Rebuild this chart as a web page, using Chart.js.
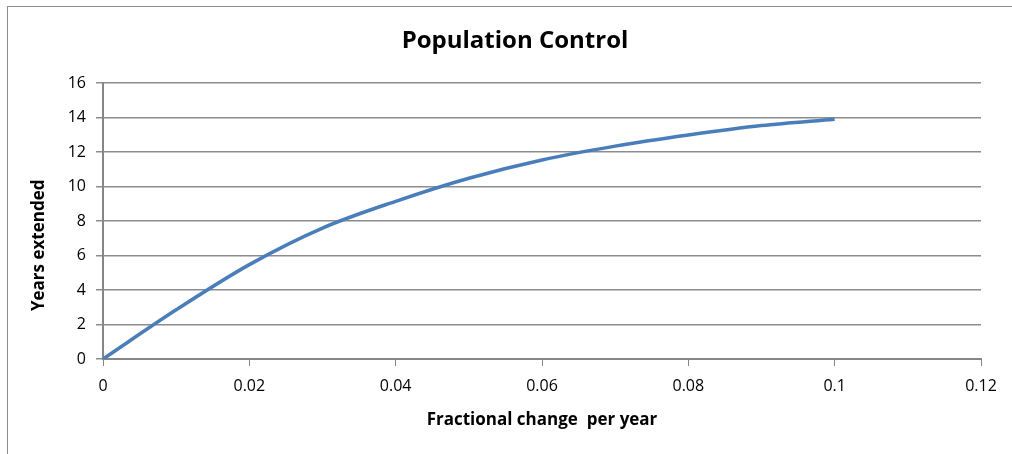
<html>
<head>
    <script src="https://cdn.jsdelivr.net/npm/chart.js@4.4.1/dist/chart.umd.min.js"></script>
    <style>
        body { margin: 0; background: #fff; }
    </style>
</head>
<body>
<div style="width:1012px;height:454px">
<canvas id="myChart" width="1012" height="454"></canvas>
</div>
</body>
<script>
    // values
    var fractionalChange = [0, 0.01, 0.02, 0.03, 0.04, 0.05, 0.06, 0.07, 0.08, 0.09, 0.1];
    var yearsExtended = [0, 2.85, 5.47, 7.59, 9.14, 10.48, 11.54, 12.34, 12.98, 13.53, 13.9];
    var xTicks = [0, 0.02, 0.04, 0.06, 0.08, 0.1, 0.12];
    var yTicks = [0, 2, 4, 6, 8, 10, 12, 14, 16];

    var points = fractionalChange.map(function (x, i) {
        return { x: x, y: yearsExtended[i] };
    });

    var fontFamily = "'Open Sans', sans-serif";

    // outer frame like the spreadsheet chart border
    var frame = {
        id: 'frame',
        beforeDraw: function (chart) {
            var ctx = chart.ctx;
            ctx.save();
            ctx.fillStyle = '#fff';
            ctx.fillRect(0, 0, chart.width, chart.height);
            ctx.strokeStyle = '#8c8c8c';
            ctx.lineWidth = 1;
            ctx.strokeRect(7.5, 6.5, chart.width + 20, chart.height + 20);
            ctx.restore();
        }
    };

    var ctx = document.getElementById("myChart").getContext("2d");
    var chart = new Chart(ctx, {
        type: 'line',
        data: {
            datasets: [{
                label: 'Years extended',
                data: points,
                borderColor: '#4a7ebb',
                borderWidth: 3.5,
                pointRadius: 0,
                fill: false,
                cubicInterpolationMode: 'monotone'
            }]
        },
        options: {
            responsive: false,
            animation: false,
            layout: { padding: { left: 18, right: 0, top: 0, bottom: 0 } },
            plugins: {
                legend: { display: false },
                tooltip: { enabled: false },
                title: {
                    display: true,
                    text: 'Population Control',
                    color: '#000',
                    font: { family: fontFamily, size: 24, weight: 'bold' },
                    padding: { top: 26.5, bottom: 27.7 }
                }
            },
            scales: {
                x: {
                    type: 'linear',
                    min: 0,
                    max: 0.12,
                    afterBuildTicks: function (scale) {
                        scale.ticks = xTicks.map(function (v) { return { value: v }; });
                    },
                    afterFit: function (scale) {
                        scale.height = 95;
                        scale.paddingRight = 31;
                    },
                    ticks: {
                        color: '#000',
                        font: { family: fontFamily, size: 16 },
                        padding: 11,
                        maxRotation: 0,
                        callback: function (v) { return String(v); }
                    },
                    grid: {
                        drawOnChartArea: false,
                        drawTicks: true,
                        tickLength: 7,
                        color: '#868686'
                    },
                    border: { color: '#868686', width: 2 },
                    title: {
                        display: true,
                        text: 'Fractional change  per year',
                        color: '#000',
                        font: { family: fontFamily, size: 17, weight: 'bold' },
                        padding: { top: 0, bottom: 23.3 }
                    }
                },
                y: {
                    min: 0,
                    max: 16,
                    afterBuildTicks: function (scale) {
                        scale.ticks = yTicks.map(function (v) { return { value: v }; });
                    },
                    afterFit: function (scale) { scale.width = 85; },
                    ticks: {
                        color: '#000',
                        font: { family: fontFamily, size: 16 },
                        padding: 10
                    },
                    grid: {
                        color: '#8c8c8c',
                        lineWidth: 1.5,
                        tickLength: 7
                    },
                    border: { color: '#868686', width: 2 },
                    title: {
                        display: true,
                        // trailing spaces push the label down, as in the original
                        text: 'Years extended' + ' '.repeat(11),
                        color: '#000',
                        font: { family: fontFamily, size: 17, weight: 'bold' },
                        padding: { top: 10.8, bottom: 0 }
                    }
                }
            }
        },
        plugins: [frame]
    });
</script>
</html>
